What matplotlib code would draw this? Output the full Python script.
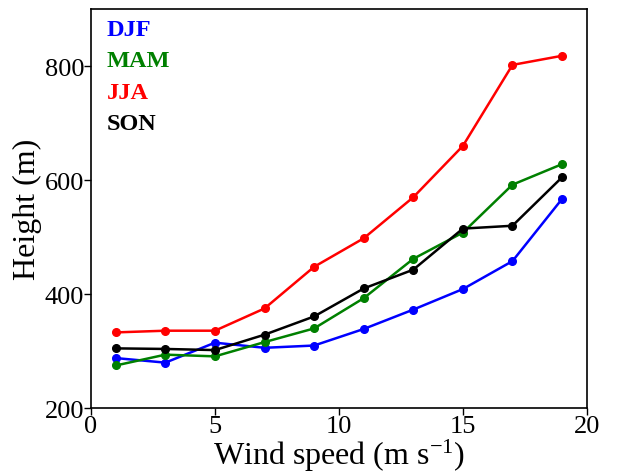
import numpy as np
import matplotlib
matplotlib.use('Agg')
import matplotlib.pyplot as plt

plt.rcParams['font.family'] = ['Liberation Serif', 'DejaVu Serif']
plt.rcParams['mathtext.default'] = 'regular'

# wind speed bins (m/s)
wind = [1, 3, 5, 7, 9, 11, 13, 15, 17, 19]

# heights per season (m)
djf = [288, 280, 315, 306, 310, 339, 373, 409, 458, 567]
mam = [275, 294, 291, 316, 340, 393, 462, 508, 592, 628]
jja = [333, 336, 336, 375, 448, 498, 570, 660, 802, 818]
son = [305, 304, 302, 329, 361, 410, 443, 515, 520, 605]

seasons = ['DJF', 'MAM', 'JJA', 'SON']
colors = ['#0000ff', '#008000', '#ff0000', '#000000']

fig = plt.figure(figsize=(6.21, 4.77), dpi=100)
ax = fig.add_axes([0.1465, 0.142, 0.7985, 0.837])

for name, y, c in zip(seasons, [djf, mam, jja, son], colors):
    ax.plot(wind, y, color=c, lw=1.8, marker='o', ms=5.5, label=name)

ax.set_xlim(0, 20)
ax.set_ylim(200, 900)
ax.set_xticks([0, 5, 10, 15, 20])
ax.set_yticks([200, 400, 600, 800])
ax.tick_params(direction='out', length=5, width=1, labelsize=19, pad=0)
for s in ax.spines.values():
    s.set_linewidth(1.2)

ax.set_xlabel('Wind speed (m s$^{-1}$)', fontsize=23, labelpad=0)
ax.set_ylabel('Height (m)', fontsize=23, labelpad=2)

# season labels coloured like the lines
for i, (name, c) in enumerate(zip(seasons, colors)):
    ax.text(0.032, 0.948 - i * 0.078, name, color=c, fontsize=17.5,
            fontweight='bold', transform=ax.transAxes, va='center')

plt.savefig('out.png', dpi=100)
